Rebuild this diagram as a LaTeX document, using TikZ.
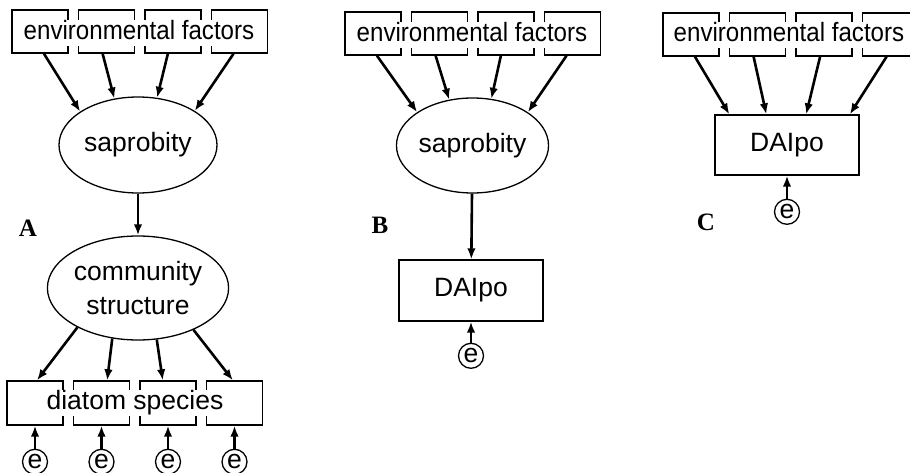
\documentclass[tikz,border=0pt]{standalone}
\usepackage{fontspec}
\setmainfont{Liberation Sans}
\newfontfamily\panelfont{Liberation Serif}
\usepackage{tikz}
\usetikzlibrary{shapes, arrows.meta, positioning}
\tikzset{
    factor/.style={
        rectangle, draw, line width=1.3pt,
        minimum width=56pt, minimum height=43pt, inner sep=0pt
    },
    rowlabel/.style={fill=white, inner sep=0.5pt, text height=19pt, text depth=6pt},
    latent/.style={ellipse, draw, line width=1.3pt, align=center, inner sep=0pt},
    index/.style={rectangle, draw, line width=1.3pt, minimum width=144pt, minimum height=61pt},
    err/.style={circle, draw, line width=1.3pt, minimum size=25pt, inner sep=0pt},
    panel/.style={font=\panelfont\bfseries\fontsize{25}{30}\selectfont},
    line/.style={draw,-{Latex[length=11pt,width=8.5pt]},line width=2.6pt}
}
% the factor row is set a little narrower than the rest
\newcommand{\envtext}{\scalebox{0.91}[1]{environmental factors}}

\begin{document}
\begin{tikzpicture}[x=1pt, y=-1pt, font=\fontsize{26.5}{34}\selectfont]
    \useasboundingbox (0,0) rectangle (910,473);

    % Nodes: model A
    \node [factor] (fa1) at (40,31.5) {};
    \node [factor] (fa2) at (106.5,31.5) {};
    \node [factor] (fa3) at (173,31.5) {};
    \node [factor] (fa4) at (239.5,31.5) {};
    \node [rowlabel] (enva) at (139,33) {\envtext};
    \node [latent, minimum width=158pt, minimum height=96pt] (sapa) at (138,145) {saprobity};
    \node [latent, minimum width=156pt, minimum height=104pt] (coma) at (138,288) {community\\structure};
    \node [factor, minimum height=44pt] (sp1) at (35,403) {};
    \node [factor, minimum height=44pt] (sp2) at (101.5,403) {};
    \node [factor, minimum height=44pt] (sp3) at (168,403) {};
    \node [factor, minimum height=44pt] (sp4) at (234.5,403) {};
    \node [rowlabel] (diatoms) at (135,403) {diatom species};
    \node [err, below=23pt of sp1] (ea1) {e};
    \node [err, below=23pt of sp2] (ea2) {e};
    \node [err, below=23pt of sp3] (ea3) {e};
    \node [err, below=23pt of sp4] (ea4) {e};
    \node [panel] (la) at (28,228) {A};

    % Nodes: model B
    \node [factor] (fb1) at (373,33.5) {};
    \node [factor] (fb2) at (439.5,33.5) {};
    \node [factor] (fb3) at (506,33.5) {};
    \node [factor] (fb4) at (572.5,33.5) {};
    \node [rowlabel] (envb) at (472,35) {\envtext};
    \node [latent, minimum width=152pt, minimum height=95pt] (sapb) at (472.5,145.5) {saprobity};
    \node [index] (daib) at (471,290.5) {DAIpo};
    \node [err, below=21pt of daib] (eb) {e};
    \node [panel] (lb) at (380,225) {B};

    % Nodes: model C
    \node [factor] (fc1) at (691,34.5) {};
    \node [factor] (fc2) at (757.5,34.5) {};
    \node [factor] (fc3) at (824,34.5) {};
    \node [factor] (fc4) at (890.5,34.5) {};
    \node [rowlabel] (envc) at (789,35) {\envtext};
    \node [index, minimum height=60pt] (daic) at (787,145) {DAIpo};
    \node [err, below=23pt of daic] (ec) {e};
    \node [panel] (lc) at (706,222) {C};

    % Edges: model A
    \draw [line] (fa1.-80) -- (sapa.150);
    \draw [line] (fa2.-100) -- (sapa.117);
    \draw [line] (fa3.-103) -- (sapa.68);
    \draw [line] (fa4.-105) -- (sapa.31);
    \draw [line] (sapa) -- (coma);
    \draw [line] (coma.213) -- (sp1.85);
    \draw [line] (coma.243) -- (sp2.76);
    \draw [line] (coma.290) -- (sp3.103);
    \draw [line] (coma.323) -- (sp4.94);
    \draw [line] (ea1) -- (sp1);
    \draw [line] (ea2) -- (sp2);
    \draw [line] (ea3) -- (sp3);
    \draw [line] (ea4) -- (sp4);

    % Edges: model B
    \draw [line] (fb1.-80) -- (sapb.149);
    \draw [line] (fb2.-100) -- (sapb.117);
    \draw [line] (fb3.-103) -- (sapb.68);
    \draw [line] (fb4.-105) -- (sapb.31);
    \draw [line] (sapb) -- (daib);
    \draw [line] (eb) -- (daib);

    % Edges: model C
    \draw [line] (fc1.-80) -- (daic.152);
    \draw [line] (fc2.-100) -- (daic.124);
    \draw [line] (fc3.-100) -- (daic.58);
    \draw [line] (fc4.-100) -- (daic.26);
    \draw [line] (ec) -- (daic);

\end{tikzpicture}
\end{document}
